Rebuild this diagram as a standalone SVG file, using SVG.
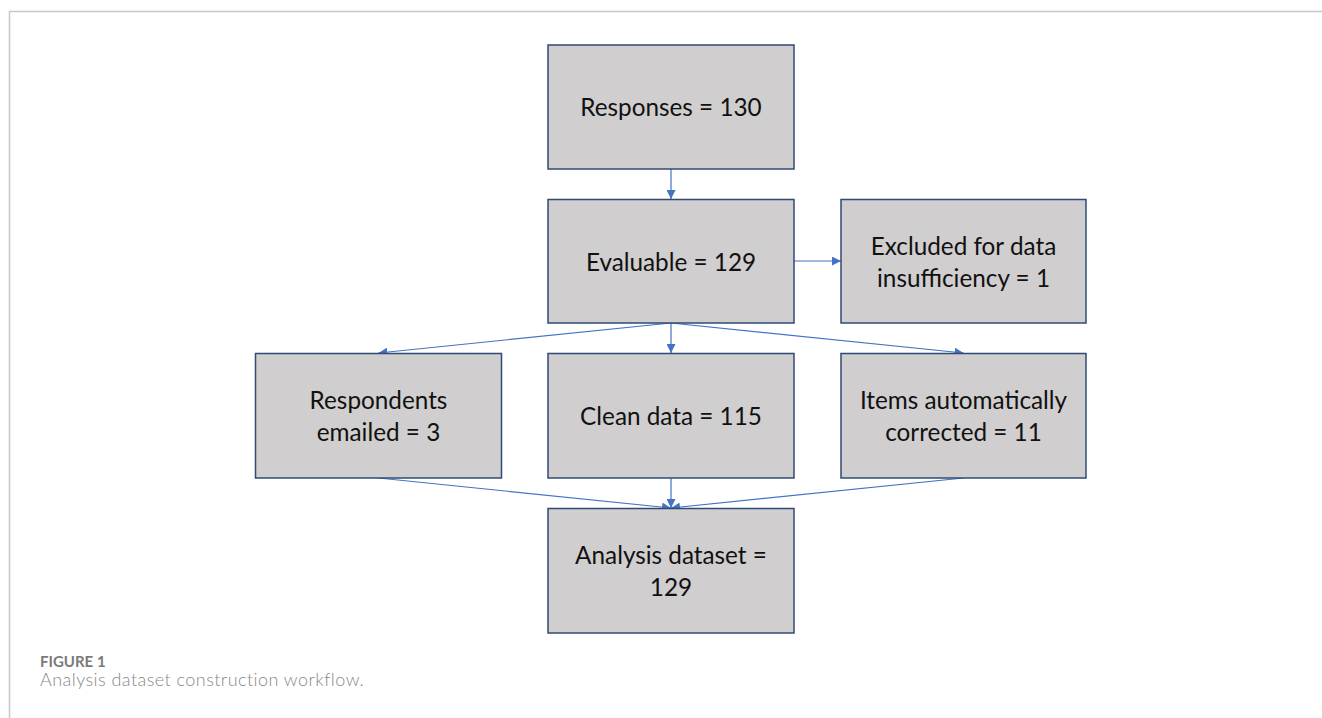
<svg xmlns="http://www.w3.org/2000/svg" width="1322" height="718" viewBox="0 0 1322 718">
  <style>
    .box { fill: #D0CECE; stroke: #2F4A76; stroke-width: 1.5; }
    .lbl { font-family: Lato, "Open Sans", sans-serif; font-size: 24.3px; fill: #111; text-anchor: middle; }
    .conn { stroke: #4472C4; stroke-width: 1.2; fill: none; marker-end: url(#arrow); }
    .frame { stroke: #C8C8C8; stroke-width: 1.5; fill: none; }
    .cap1 { font-family: Lato, "Open Sans", sans-serif; font-size: 15px; font-weight: bold; fill: #7A7A7A; }
    .cap2 { font-family: Lato, "Open Sans", sans-serif; font-size: 18px; font-weight: 300; fill: #888; letter-spacing: 0.45px; }
  </style>
  <defs>
    <marker id="arrow" viewBox="0 0 10 10" refX="10" refY="5" markerWidth="9" markerHeight="9" markerUnits="userSpaceOnUse" orient="auto">
      <path d="M0,0 L10,5 L0,10 Z" fill="#4472C4"/>
    </marker>
  </defs>

  <rect width="1322" height="718" fill="#FFFFFF"/>
  <path class="frame" d="M9.5,718 V11.5 H1322"/>

  <g id="connectors">
    <line class="conn" x1="671" y1="169" x2="671" y2="199"/>
    <line class="conn" x1="794" y1="261" x2="841" y2="261"/>
    <line class="conn" x1="671" y1="323" x2="378.5" y2="353"/>
    <line class="conn" x1="671" y1="323" x2="671" y2="353"/>
    <line class="conn" x1="671" y1="323" x2="963.5" y2="353"/>
    <line class="conn" x1="378.5" y1="478" x2="671" y2="508"/>
    <line class="conn" x1="671" y1="478" x2="671" y2="508"/>
    <line class="conn" x1="963.5" y1="478" x2="671" y2="508"/>
  </g>

  <g id="responses">
    <rect class="box" x="548" y="45" width="246" height="124"/>
    <text class="lbl" x="671" y="116">Responses = 130</text>
  </g>
  <g id="evaluable">
    <rect class="box" x="548" y="199.5" width="246" height="123.5"/>
    <text class="lbl" x="671" y="271">Evaluable = 129</text>
  </g>
  <g id="excluded">
    <rect class="box" x="841" y="199.5" width="245" height="123.5"/>
    <text class="lbl" x="963.5" y="255">Excluded for data</text>
    <text class="lbl" x="963.5" y="287">insufficiency = 1</text>
  </g>
  <g id="respondents">
    <rect class="box" x="255.5" y="353.5" width="246" height="124.5"/>
    <text class="lbl" x="378.5" y="409">Respondents</text>
    <text class="lbl" x="378.5" y="441">emailed = 3</text>
  </g>
  <g id="clean">
    <rect class="box" x="548" y="353.5" width="246" height="124.5"/>
    <text class="lbl" x="671" y="425">Clean data = 115</text>
  </g>
  <g id="items">
    <rect class="box" x="841" y="353.5" width="245" height="124.5"/>
    <text class="lbl" x="963.5" y="409">Items automatically</text>
    <text class="lbl" x="963.5" y="441">corrected = 11</text>
  </g>
  <g id="analysis">
    <rect class="box" x="548" y="508.5" width="246" height="124.5"/>
    <text class="lbl" x="671" y="564">Analysis dataset =</text>
    <text class="lbl" x="671" y="596">129</text>
  </g>

  <g id="caption">
    <text class="cap1" x="40" y="667">FIGURE 1</text>
    <text class="cap2" x="40" y="686">Analysis dataset construction workflow.</text>
  </g>
</svg>
